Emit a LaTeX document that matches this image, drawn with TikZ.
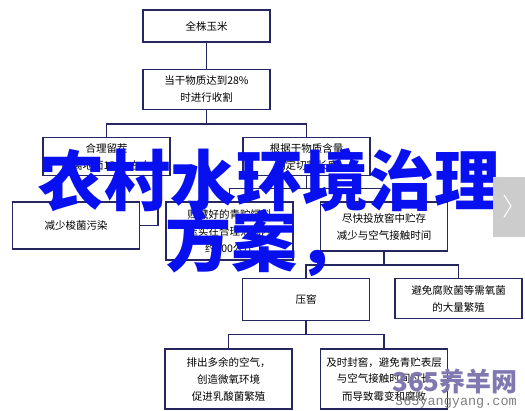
\documentclass[tikz,border=0pt]{standalone}
\usepackage{fontspec}
\newfontfamily\cjk{Noto Sans CJK SC}
\newfontfamily\wmmono{Liberation Mono}
\usetikzlibrary{positioning}
\definecolor{linkblue}{RGB}{38,38,96}
\definecolor{headblue}{RGB}{8,16,240}
\definecolor{wmgrey}{RGB}{128,120,176}
\tikzset{
  box/.style  ={draw=linkblue,line width=1.4pt,fill=white,minimum width=127pt,align=center,inner sep=3pt,font=\cjk\fontsize{10.5}{17}\selectfont},
  link/.style ={draw=linkblue,line width=1.4pt},
  head/.style ={text=headblue,inner sep=0pt,font=\cjk\bfseries\fontsize{66}{66}\selectfont},
}

\begin{document}
\begin{tikzpicture}[x=1pt,y=1pt]
  \useasboundingbox[fill=white] (0,0) rectangle (525,411);
  \node[box,minimum height=32pt] (corn) at (206.5,385) {全株玉米};
  \node[box,minimum height=40pt,below=26pt of corn] (harvest) {当干物质达到28\%\\时进行收割};
  \node[box,minimum height=38pt,below=27pt of harvest,xshift=-100pt] (stubble) {合理留茬\\距离地面15cm左右};
  \node[box,minimum height=38pt,below=27pt of harvest,xshift=100pt] (cutlen) {根据干物质含量\\确定切割长度};
  \node[box,minimum height=47pt,below=25pt of stubble,xshift=-30.5pt] (clost) {减少梭菌污染};
  \node[box,minimum height=58pt,below=25pt of cutlen,xshift=-77pt] (silage) {贮藏好的青贮饲料\\压实在合理范围内\\约600公斤};
  \node[box,minimum height=49pt,below=25pt of cutlen,xshift=77.5pt] (store) {尽快投放窖中贮存\\减少与空气接触时间};
  \node[box,minimum height=42pt,below=26pt of store,xshift=-78pt] (press) {压窖};
  \node[box,minimum height=40pt,below=26pt of store,xshift=74.5pt] (aerob) {避免腐败菌等需氧菌\\的大量繁殖};
  \node[box,minimum height=60pt,below=27pt of press,xshift=-77.5pt] (air) {排出多余的空气，\\创造微氧环境\\促进乳酸菌繁殖};
  \node[box,minimum height=60pt,below=27pt of press,xshift=78pt] (seal) {及时封窖，避免青贮表层\\与空气接触时间过长\\而导致霉变和腐败};
  \draw[link] (corn) -- (harvest);
  \draw[link] (harvest.south) -- ++(0,-14pt) -| (stubble.north);
  \draw[link] (harvest.south) -- ++(0,-14pt) -| (cutlen.north);
  \draw[link] ([xshift=51.5pt]stubble.south) |- (clost.east);
  \draw[link] (cutlen.south) -- ++(0,-12pt) -| (silage.north);
  \draw[link] (cutlen.south) -- ++(0,-12pt) -| (store.north);
  \draw[link] (store.south) -- ++(0,-13pt) -| (press.north);
  \draw[link] (store.south) -- ++(0,-13pt) -| (aerob.north);
  \draw[link] (press.south) -- ++(0,-13pt) -| (air.north);
  \draw[link] (press.south) -- ++(0,-13pt) -| (seal.north);
  % overlay headline
  \node[head,anchor=west] (title) at (38,231) {农村水环境治理};
  \node[head,anchor=west] (titlerest) at (165,168) {方案，};
  % watermark
  \node[text=wmgrey,inner sep=0pt,font=\cjk\bfseries\fontsize{26}{26}\selectfont] (wm) at (455,29) {365养羊网};
  \node[text=gray,inner sep=0pt,font=\wmmono\fontsize{13.5}{14}\selectfont] (wmurl) at (456,8.5) {365yangyang.com};
  % next button
  \fill[gray!40] (493,174) rectangle (525,234);
  \draw[white,line width=1pt] (504,216) -- (511,205) -- (504,194);
\end{tikzpicture}
\end{document}
